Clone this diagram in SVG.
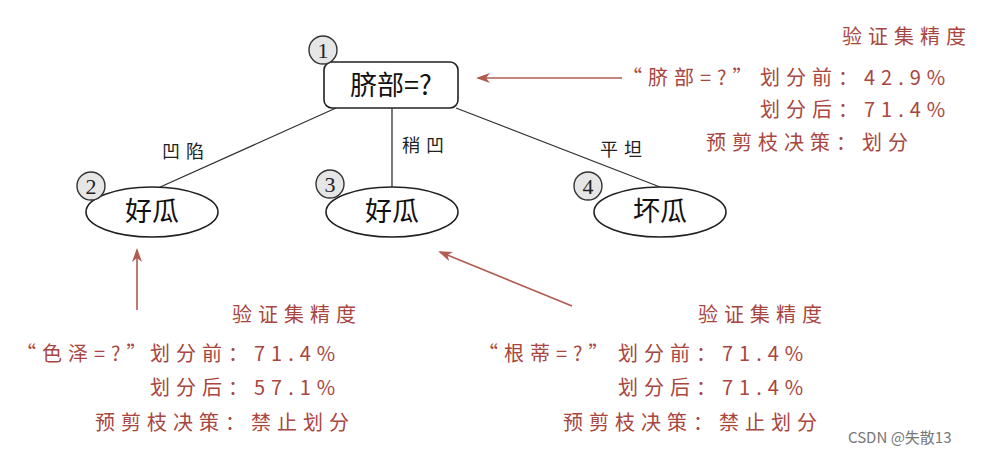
<svg xmlns="http://www.w3.org/2000/svg" width="982" height="454" viewBox="0 0 982 454">
<style>
.n{fill:#fff;stroke:#222;stroke-width:1.6}
.c{fill:#e6e6e6;stroke:#333;stroke-width:1.4}
.cn{font-family:"Liberation Serif",serif;font-size:22px;text-anchor:middle;fill:#222}
.t{font-family:"Noto Sans CJK SC",sans-serif;font-size:27px;text-anchor:middle;fill:#111}
.e{stroke:#333;stroke-width:1.3;fill:none}
.l{font-family:"Noto Sans CJK SC",sans-serif;font-size:18px;fill:#222;letter-spacing:6px}
.r{font-family:"Noto Sans CJK SC",sans-serif;font-size:20px;fill:#a8463f;letter-spacing:6px}
.a{stroke:#b05a50;stroke-width:1.6;fill:none;marker-end:url(#ah)}
</style>
<defs><marker id="ah" markerWidth="14" markerHeight="10" refX="12" refY="5" orient="auto" markerUnits="userSpaceOnUse"><path d="M0,0 L14,5 L0,10 L4,5 Z" fill="#b05a50"/></marker></defs>
<rect width="982" height="454" fill="#fff"/>
<g id="connectors">
<line class="e" x1="336" y1="108" x2="158" y2="188"/>
<line class="e" x1="392" y1="108" x2="392" y2="187"/>
<line class="e" x1="456" y1="108" x2="660" y2="187"/>
<text class="l" x="162" y="158">凹陷</text>
<text class="l" x="402" y="152">稍凹</text>
<text class="l" x="600" y="156">平坦</text>
<line class="a" x1="622" y1="78" x2="478" y2="78"/>
<line class="a" x1="137" y1="310" x2="137" y2="250"/>
<line class="a" x1="572" y1="306" x2="440" y2="252"/>
</g>
<g id="n1"><rect class="n" x="324" y="62" width="134" height="46" rx="8"/><text class="t" x="391" y="95">脐部=?</text><circle class="c" cx="323" cy="50" r="14"/><text class="cn" x="323" y="58">1</text></g>
<g id="n2"><ellipse class="n" cx="152" cy="212" rx="66" ry="25"/><text class="t" x="152" y="221">好瓜</text><circle class="c" cx="91" cy="186" r="14"/><text class="cn" x="91" y="194">2</text></g>
<g id="n3"><ellipse class="n" cx="392" cy="212" rx="66" ry="25"/><text class="t" x="392" y="221">好瓜</text><circle class="c" cx="330" cy="184" r="14"/><text class="cn" x="330" y="192">3</text></g>
<g id="n4"><ellipse class="n" cx="660" cy="212" rx="66" ry="25"/><text class="t" x="660" y="221">坏瓜</text><circle class="c" cx="588" cy="186" r="14"/><text class="cn" x="588" y="194">4</text></g>
<g id="info1">
<text class="r" x="842" y="44">验证集精度</text>
<text class="r" x="622" y="85">“脐部=?”</text>
<text class="r" x="760" y="85">划分前：42.9%</text>
<text class="r" x="760" y="117">划分后：71.4%</text>
<text class="r" x="706" y="150">预剪枝决策：划分</text>
</g>
<g id="info2">
<text class="r" x="232" y="322">验证集精度</text>
<text class="r" x="16" y="361">“色泽=?”</text>
<text class="r" x="150" y="361">划分前：71.4%</text>
<text class="r" x="150" y="395">划分后：57.1%</text>
<text class="r" x="95" y="430">预剪枝决策：禁止划分</text>
</g>
<g id="info3">
<text class="r" x="698" y="322">验证集精度</text>
<text class="r" x="478" y="361">“根蒂=?”</text>
<text class="r" x="618" y="361">划分前：71.4%</text>
<text class="r" x="618" y="395">划分后：71.4%</text>
<text class="r" x="563" y="430">预剪枝决策：禁止划分</text>
</g>
<text x="848" y="443" font-family="Noto Sans CJK SC,sans-serif" font-size="15" fill="#777">CSDN @失散13</text>
</svg>
